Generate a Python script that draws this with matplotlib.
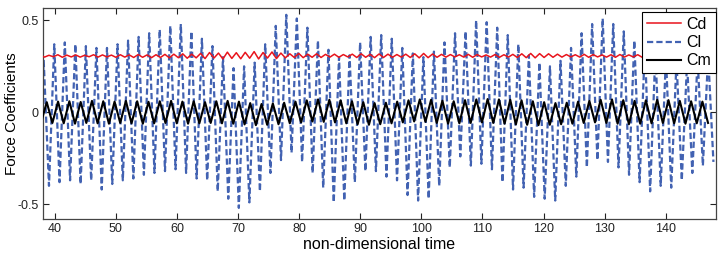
import numpy as np
import matplotlib
matplotlib.use("Agg")
import matplotlib.pyplot as plt

plt.rcParams['font.family'] = ['Liberation Sans', 'DejaVu Sans']

# ---- data (extreme values of each oscillation) ----
# Cl: troughs start at t=37.34, peaks half a cycle later, one cycle = 1.726
cl_t0, cl_period = 37.34, 1.726
cl_troughs = [-0.38, -0.40, -0.38, -0.37, -0.39, -0.37, -0.42, -0.39, -0.37, -0.36,
              -0.34, -0.33, -0.32, -0.31, -0.33, -0.36, -0.37, -0.43, -0.47, -0.52,
              -0.49, -0.43, -0.33, -0.26, -0.22, -0.27, -0.33, -0.41, -0.49, -0.48,
              -0.38, -0.32, -0.32, -0.35, -0.37, -0.45, -0.48, -0.47, -0.40, -0.30,
              -0.24, -0.29, -0.28, -0.31, -0.38, -0.42, -0.41, -0.46, -0.47, -0.48,
              -0.40, -0.35, -0.30, -0.26, -0.27, -0.30, -0.34, -0.38, -0.43, -0.40,
              -0.41, -0.37, -0.33, -0.29, -0.27]
cl_peaks = [0.28, 0.37, 0.38, 0.37, 0.36, 0.35, 0.35, 0.37, 0.39, 0.41,
            0.43, 0.45, 0.47, 0.48, 0.44, 0.40, 0.36, 0.30, 0.24, 0.25,
            0.27, 0.37, 0.47, 0.53, 0.51, 0.46, 0.39, 0.34, 0.30, 0.31,
            0.38, 0.41, 0.42, 0.40, 0.35, 0.32, 0.30, 0.33, 0.38, 0.43,
            0.44, 0.50, 0.49, 0.46, 0.42, 0.37, 0.31, 0.27, 0.25, 0.28,
            0.35, 0.43, 0.48, 0.51, 0.48, 0.44, 0.39, 0.36, 0.33, 0.30,
            0.28, 0.27, 0.29, 0.31]

# Cm: troughs start at t=37.775, one cycle = 1.85
cm_t0, cm_period = 37.775, 1.85
cm_troughs = [-0.055, -0.058, -0.060, -0.062, -0.058, -0.060, -0.062, -0.058, -0.060, -0.062,
              -0.060, -0.058, -0.060, -0.062, -0.060, -0.058, -0.060, -0.062, -0.066, -0.070,
              -0.068, -0.065, -0.060, -0.055, -0.050, -0.052, -0.055, -0.060, -0.065, -0.068,
              -0.065, -0.060, -0.055, -0.050, -0.052, -0.058, -0.062, -0.060, -0.058, -0.055,
              -0.058, -0.062, -0.066, -0.068, -0.070, -0.068, -0.065, -0.062, -0.058, -0.055,
              -0.058, -0.062, -0.065, -0.062, -0.060, -0.058, -0.060, -0.062, -0.060, -0.058]
cm_peaks = [0.055, 0.058, 0.060, 0.056, 0.062, 0.060, 0.058, 0.062, 0.060, 0.057,
            0.060, 0.062, 0.058, 0.060, 0.055, 0.060, 0.062, 0.058, 0.050, 0.045,
            0.048, 0.052, 0.058, 0.065, 0.070, 0.068, 0.065, 0.060, 0.055, 0.050,
            0.052, 0.058, 0.065, 0.070, 0.068, 0.063, 0.060, 0.066, 0.070, 0.072,
            0.070, 0.068, 0.065, 0.060, 0.055, 0.050, 0.052, 0.058, 0.062, 0.068,
            0.070, 0.066, 0.062, 0.065, 0.068, 0.066, 0.062, 0.060, 0.058]

# Cd: highs start at t=37.6, one ripple = 1.46
cd_t0, cd_period = 37.6, 1.46
cd_high = [0.312, 0.310, 0.313, 0.311, 0.312, 0.310, 0.313, 0.312, 0.311, 0.313,
           0.312, 0.314, 0.312, 0.313, 0.315, 0.316, 0.318, 0.316, 0.320, 0.325,
           0.322, 0.327, 0.324, 0.326, 0.330, 0.325, 0.328, 0.322, 0.318, 0.320,
           0.316, 0.318, 0.315, 0.316, 0.314, 0.316, 0.318, 0.315, 0.317, 0.316,
           0.314, 0.316, 0.318, 0.320, 0.317, 0.315, 0.314, 0.313, 0.315, 0.314,
           0.312, 0.314, 0.313, 0.315, 0.318, 0.320, 0.319, 0.318, 0.316, 0.314,
           0.313, 0.315, 0.314, 0.312, 0.313, 0.314, 0.312, 0.313, 0.315, 0.314,
           0.312, 0.313, 0.314, 0.313, 0.312, 0.313]
cd_low = [0.300, 0.302, 0.299, 0.301, 0.300, 0.302, 0.300, 0.301, 0.299, 0.300,
          0.298, 0.299, 0.297, 0.298, 0.296, 0.297, 0.294, 0.296, 0.292, 0.295,
          0.290, 0.293, 0.291, 0.294, 0.290, 0.295, 0.292, 0.296, 0.298, 0.297,
          0.299, 0.298, 0.300, 0.299, 0.301, 0.298, 0.299, 0.297, 0.298, 0.299,
          0.300, 0.298, 0.296, 0.297, 0.299, 0.300, 0.301, 0.300, 0.299, 0.301,
          0.300, 0.299, 0.300, 0.298, 0.297, 0.296, 0.298, 0.299, 0.300, 0.301,
          0.300, 0.299, 0.301, 0.300, 0.299, 0.300, 0.301, 0.299, 0.298, 0.300,
          0.301, 0.300, 0.299, 0.300, 0.301, 0.300]

x_ticks = [40, 50, 60, 70, 80, 90, 100, 110, 120, 130, 140]
y_ticks = [-0.5, 0, 0.5]
y_ticklabels = ['-0.5', '0', '0.5']


def interleave(first, second, t0, period):
    # alternate first/second extremes, half a period apart
    vals = []
    for i in range(max(len(first), len(second))):
        if i < len(first):
            vals.append(first[i])
        if i < len(second):
            vals.append(second[i])
    t = t0 + 0.5 * period * np.arange(len(vals))
    return t, np.array(vals)


t_cl, cl = interleave(cl_troughs, cl_peaks, cl_t0, cl_period)
t_cm, cm = interleave(cm_troughs, cm_peaks, cm_t0, cm_period)
t_cd, cd = interleave(cd_high, cd_low, cd_t0, cd_period)

fig = plt.figure(figsize=(7.18, 2.54), dpi=100)
ax = fig.add_axes([0.060, 0.138, 0.937, 0.829])

l_cl, = ax.plot(t_cl, cl, color='#4262b2', lw=1.6, linestyle=(0, (2.8, 1.4)), zorder=2)
l_cd, = ax.plot(t_cd, cd, color='#e8141c', lw=1.1, zorder=3)
l_cm, = ax.plot(t_cm, cm, color='black', lw=1.5, zorder=4)

ax.set_xlim(38.1, 148.2)
ax.set_ylim(-0.58, 0.565)
ax.set_xticks(x_ticks)
ax.set_yticks(y_ticks)
ax.set_yticklabels(y_ticklabels)
ax.tick_params(direction='in', top=True, right=True, length=4, width=0.8,
               labelsize=9, pad=3, colors='#222222')
for s in ax.spines.values():
    s.set_linewidth(0.9)
    s.set_color('#444444')

ax.set_xlabel('non-dimensional time', fontsize=11.5, labelpad=1.5)
ax.set_ylabel('Force Coefficients', fontsize=11)
ax.yaxis.set_label_coords(-0.036, 0.5)

leg = ax.legend([l_cd, l_cl, l_cm], ['Cd', 'Cl', 'Cm'], loc='upper right',
                bbox_to_anchor=(1.0, 0.982), fontsize=11.5, fancybox=False,
                framealpha=1, edgecolor='black', handlelength=2.1,
                handletextpad=0.35, borderpad=0.3, labelspacing=0.2,
                borderaxespad=0.0)
leg.get_frame().set_linewidth(0.8)

fig.savefig('out.png', dpi=100)
